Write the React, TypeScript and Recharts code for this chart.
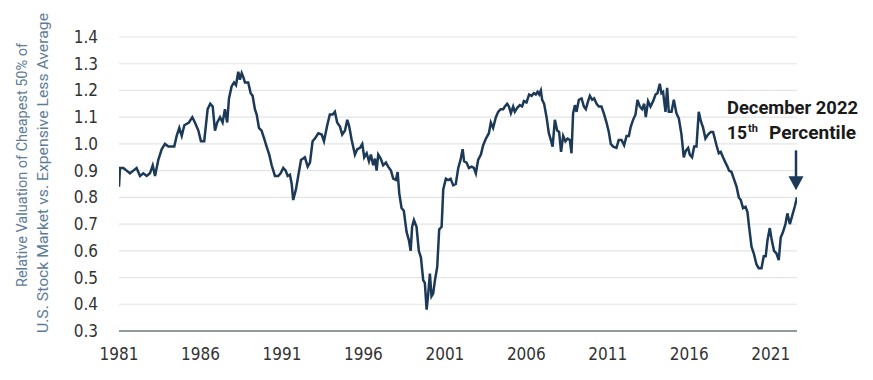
import React from 'react';
import { LineChart, Line, XAxis, YAxis, CartesianGrid, ReferenceDot } from 'recharts';

// decimal years, with the matching relative valuation
const years = [
  1981.0, 1981.06, 1981.27, 1981.47, 1981.67, 1981.88, 1982.08, 1982.29, 1982.49, 1982.7, 1982.9,
  1983.07, 1983.21, 1983.41, 1983.62, 1983.82, 1984.03, 1984.39, 1984.54, 1984.7, 1984.85, 1985.01,
  1985.29, 1985.5, 1985.66, 1985.87, 1986.03, 1986.23, 1986.44, 1986.6, 1986.75, 1986.89, 1987.03,
  1987.2, 1987.36, 1987.5, 1987.64, 1987.75, 1987.91, 1988.06, 1988.18, 1988.32, 1988.42, 1988.53,
  1988.63, 1988.73, 1988.93, 1989.08, 1989.2, 1989.34, 1989.45, 1989.59, 1989.75, 1989.91, 1990.06,
  1990.22, 1990.37, 1990.57, 1990.77, 1990.92, 1991.08, 1991.23, 1991.35, 1991.49, 1991.6, 1991.69,
  1991.86, 1992.0, 1992.17, 1992.41, 1992.58, 1992.72, 1992.88, 1993.02, 1993.23, 1993.44, 1993.58,
  1993.78, 1993.94, 1994.11, 1994.25, 1994.39, 1994.56, 1994.7, 1994.87, 1995.01, 1995.13, 1995.28,
  1995.48, 1995.62, 1995.79, 1995.93, 1996.05, 1996.2, 1996.34, 1996.46, 1996.6, 1996.71, 1996.81,
  1996.91, 1997.06, 1997.21, 1997.38, 1997.52, 1997.69, 1997.83, 1997.99, 1998.1, 1998.2, 1998.34,
  1998.48, 1998.65, 1998.79, 1998.9, 1998.99, 1999.1, 1999.26, 1999.4, 1999.53, 1999.67, 1999.77,
  1999.88, 1999.98, 2000.08, 2000.18, 2000.28, 2000.39, 2000.53, 2000.65, 2000.8, 2000.9, 2001.06,
  2001.2, 2001.35, 2001.51, 2001.67, 2001.82, 2001.96, 2002.09, 2002.18, 2002.33, 2002.47, 2002.64,
  2002.78, 2002.9, 2003.04, 2003.21, 2003.35, 2003.52, 2003.7, 2003.82, 2003.96, 2004.13, 2004.27,
  2004.42, 2004.58, 2004.68, 2004.82, 2004.93, 2005.05, 2005.19, 2005.29, 2005.44, 2005.6, 2005.74,
  2005.85, 2006.01, 2006.17, 2006.32, 2006.46, 2006.58, 2006.69, 2006.79, 2006.89, 2006.97, 2007.09,
  2007.24, 2007.38, 2007.48, 2007.61, 2007.75, 2007.89, 2008.01, 2008.13, 2008.26, 2008.4, 2008.53,
  2008.67, 2008.77, 2008.87, 2008.98, 2009.08, 2009.22, 2009.39, 2009.53, 2009.65, 2009.79, 2009.9,
  2010.04, 2010.16, 2010.31, 2010.45, 2010.61, 2010.75, 2010.92, 2011.06, 2011.18, 2011.33, 2011.53,
  2011.67, 2011.84, 2012.0, 2012.15, 2012.29, 2012.41, 2012.55, 2012.7, 2012.82, 2012.96, 2013.1,
  2013.23, 2013.33, 2013.47, 2013.62, 2013.78, 2013.93, 2014.05, 2014.19, 2014.29, 2014.39, 2014.54,
  2014.64, 2014.74, 2014.91, 2015.05, 2015.21, 2015.36, 2015.52, 2015.66, 2015.79, 2015.93, 2016.03,
  2016.17, 2016.3, 2016.44, 2016.58, 2016.71, 2016.85, 2016.99, 2017.15, 2017.32, 2017.46, 2017.67,
  2017.81, 2017.93, 2018.07, 2018.22, 2018.34, 2018.44, 2018.59, 2018.73, 2018.9, 2019.04, 2019.16,
  2019.3, 2019.45, 2019.57, 2019.67, 2019.82, 2019.96, 2020.12, 2020.26, 2020.43, 2020.57, 2020.69,
  2020.8, 2020.94, 2021.06, 2021.2, 2021.35, 2021.49, 2021.61, 2021.75, 2021.9, 2022.02, 2022.17,
  2022.31, 2022.47, 2022.61,
];

const values = [
  0.84, 0.91, 0.91, 0.9, 0.89, 0.9, 0.91, 0.88, 0.89, 0.88, 0.89,
  0.92, 0.88, 0.94, 0.98, 1.0, 0.99, 0.99, 1.03, 1.06, 1.03, 1.07,
  1.08, 1.1, 1.08, 1.05, 1.01, 1.01, 1.13, 1.15, 1.14, 1.05, 1.08,
  1.1, 1.08, 1.13, 1.08, 1.17, 1.215, 1.23, 1.22, 1.27, 1.24, 1.265,
  1.25, 1.23, 1.23, 1.19, 1.18, 1.13, 1.11, 1.06, 1.05, 1.02, 0.99,
  0.96, 0.92, 0.88, 0.88, 0.89, 0.91, 0.9, 0.88, 0.885, 0.85, 0.79,
  0.83, 0.88, 0.94, 0.95, 0.915, 0.93, 1.01, 1.02, 1.04, 1.035, 1.01,
  1.07, 1.11, 1.11, 1.12, 1.08, 1.065, 1.035, 1.05, 1.09, 1.065, 1.015,
  0.96, 0.98, 0.985, 1.0, 0.95, 0.965, 0.935, 0.96, 0.92, 0.945, 0.9,
  0.96, 0.945, 0.92, 0.93, 0.915, 0.9, 0.87, 0.865, 0.895, 0.815, 0.76,
  0.75, 0.67, 0.64, 0.6, 0.69, 0.715, 0.69, 0.6, 0.575, 0.49, 0.48,
  0.38, 0.44, 0.515, 0.43, 0.44, 0.49, 0.54, 0.68, 0.69, 0.83, 0.87,
  0.865, 0.87, 0.845, 0.85, 0.91, 0.94, 0.98, 0.935, 0.93, 0.91, 0.915,
  0.91, 0.89, 0.94, 0.96, 0.995, 1.02, 1.04, 1.08, 1.06, 1.1, 1.12,
  1.13, 1.13, 1.14, 1.15, 1.14, 1.115, 1.14, 1.12, 1.135, 1.145, 1.14,
  1.16, 1.155, 1.185, 1.18, 1.19, 1.185, 1.195, 1.185, 1.2, 1.165, 1.15,
  1.1, 1.04, 1.02, 0.99, 1.09, 1.05, 1.045, 0.97, 1.03, 1.01, 1.02,
  1.015, 0.965, 1.115, 1.145, 1.12, 1.165, 1.17, 1.14, 1.13, 1.16, 1.18,
  1.165, 1.17, 1.15, 1.14, 1.14, 1.115, 1.08, 1.045, 1.0, 0.99, 0.985,
  1.015, 1.015, 0.995, 1.03, 1.03, 1.065, 1.09, 1.11, 1.165, 1.14, 1.13,
  1.15, 1.1, 1.16, 1.14, 1.16, 1.185, 1.19, 1.225, 1.19, 1.195, 1.12,
  1.21, 1.12, 1.12, 1.165, 1.115, 1.095, 1.035, 0.95, 0.975, 0.985, 0.96,
  0.95, 0.99, 0.99, 1.12, 1.085, 1.06, 1.02, 1.035, 1.045, 1.045, 0.995,
  0.965, 0.97, 0.95, 0.93, 0.915, 0.9, 0.895, 0.87, 0.84, 0.8, 0.79,
  0.76, 0.765, 0.745, 0.69, 0.615, 0.59, 0.55, 0.535, 0.535, 0.58, 0.58,
  0.64, 0.685, 0.64, 0.6, 0.59, 0.565, 0.65, 0.67, 0.7, 0.74, 0.7,
  0.73, 0.765, 0.8,
];

const yearTicks = [1981, 1986, 1991, 1996, 2001, 2006, 2011, 2016, 2021];
const valueTicks = [0.3, 0.4, 0.5, 0.6, 0.7, 0.8, 0.9, 1.0, 1.1, 1.2, 1.3, 1.4];

const titleLines = ['Relative Valuation of Cheapest 50% of', 'U.S. Stock Market vs. Expensive Less Average'];
const noteLine1 = 'December 2022';
const noteNum = '15';
const noteSup = 'th';
const noteWord = 'Percentile';

const data = years.map((year, i) => ({ year, value: values[i] }));
const last = data[data.length - 1];

const FONT = "'Liberation Sans Narrow', 'DejaVu Sans Condensed', Roboto, sans-serif";
const NAVY = '#1c3957';

const YTitle = () => (
  <g>
    <text
      transform="translate(27 165) rotate(-90)"
      textAnchor="middle"
      fontFamily="Roboto, sans-serif"
      fontSize={15.5}
      fill="#5d7d97"
      textLength={244}
      lengthAdjust="spacingAndGlyphs"
    >
      {titleLines[0]}
    </text>
    <text
      transform="translate(48 173) rotate(-90)"
      textAnchor="middle"
      fontFamily="Roboto, sans-serif"
      fontSize={15.5}
      fill="#5d7d97"
      textLength={320}
      lengthAdjust="spacingAndGlyphs"
    >
      {titleLines[1]}
    </text>
  </g>
);

const Annotation = (props: any) => {
  const { cx, cy } = props;
  if (cx == null || cy == null) return null;
  const ax = cx - 1;
  return (
    <g>
      <text x={cx - 70} y={cy - 83} fontFamily="Roboto, sans-serif" fontWeight={700} fontSize={19} fill="#1a1a1a"
        textLength={131} lengthAdjust="spacingAndGlyphs">
        {noteLine1}
      </text>
      <text x={cx - 70} y={cy - 58} fontFamily="Roboto, sans-serif" fontWeight={700} fontSize={19} fill="#1a1a1a"
        textLength={20} lengthAdjust="spacingAndGlyphs">
        {noteNum}
      </text>
      <text x={cx - 49} y={cy - 65} fontFamily="Roboto, sans-serif" fontWeight={700} fontSize={11} fill="#1a1a1a">
        {noteSup}
      </text>
      <text x={cx - 28} y={cy - 58} fontFamily="Roboto, sans-serif" fontWeight={700} fontSize={19} fill="#1a1a1a"
        textLength={87} lengthAdjust="spacingAndGlyphs">
        {noteWord}
      </text>
      <line x1={ax} y1={cy - 47} x2={ax} y2={cy - 20} stroke={NAVY} strokeWidth={2.5} />
      <path d={`M${ax - 7.5},${cy - 21} L${ax + 7.5},${cy - 21} L${ax},${cy - 7} Z`} fill={NAVY} />
    </g>
  );
};

export default function App() {
  return (
    <div style={{ position: 'absolute', left: 0, top: 0, width: 873, height: 380, background: '#fff' }}>
      <LineChart width={873} height={380} data={data} margin={{ top: 37, right: 76, bottom: 19, left: 0 }}>
        <CartesianGrid vertical={false} stroke="#e2e5e8" strokeWidth={1.2} />
        <XAxis
          dataKey="year"
          type="number"
          domain={[1981, last.year]}
          ticks={yearTicks}
          allowDataOverflow
          height={30}
          tickLine={false}
          tickMargin={11}
          axisLine={{ stroke: '#6f7f7e', strokeWidth: 1.5 }}
          tick={{ fontFamily: FONT, fontSize: 17, fill: '#333' }}
        />
        <YAxis
          type="number"
          domain={[0.3, 1.4]}
          ticks={valueTicks}
          interval={0}
          width={119}
          axisLine={false}
          tickLine={false}
          tickMargin={15}
          tickFormatter={(v: number) => v.toFixed(1)}
          tick={{ fontFamily: FONT, fontSize: 17, fill: '#333' }}
          label={{ content: () => <YTitle /> }}
        />
        <Line
          type="linear"
          dataKey="value"
          stroke={NAVY}
          strokeWidth={2.5}
          dot={false}
          isAnimationActive={false}
        />
        <ReferenceDot x={last.year} y={last.value} r={0} ifOverflow="visible" shape={(p: any) => <Annotation {...p} />} />
      </LineChart>
    </div>
  );
}
